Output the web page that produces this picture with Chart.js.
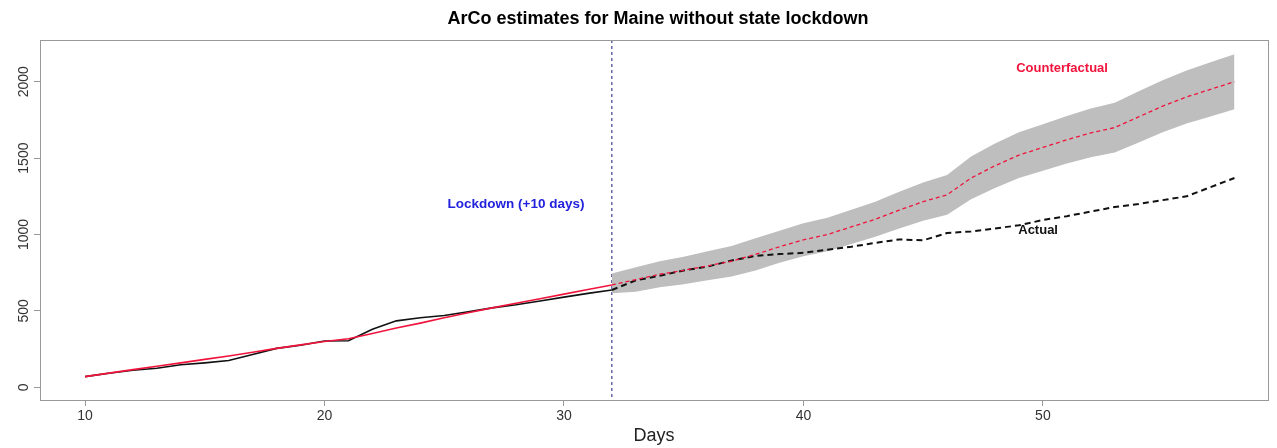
<!DOCTYPE html>
<html>
<head>
<meta charset="utf-8">
<script src="https://cdn.jsdelivr.net/npm/chart.js@4"></script>
<style>
  html, body { margin: 0; padding: 0; background: #fff; }
  #wrap { width: 1277px; height: 448px; }
</style>
</head>
<body>
<div id="wrap"><canvas id="arcoChart" width="1277" height="448"></canvas></div>
<script>
// days before / after the lockdown (+10 days) mark
const diasPre = [10,11,12,13,14,15,16,17,18,19,20,21,22,23,24,25,26,27,28,29,30,31,32];
const diasPost = [32,33,34,35,36,37,38,39,40,41,42,43,44,45,46,47,48,49,50,51,52,53,54,55,56,57,58];

const actualPre = [70,92,112,125,148,160,175,215,255,275,303,305,380,435,455,470,495,520,540,565,590,615,637];
const contrafacticoPre = [70,93,116,138,160,183,205,230,255,278,300,318,352,388,420,455,488,520,550,580,610,640,670];

const actualPost = [637,700,730,765,790,830,860,872,880,900,920,945,968,962,1010,1020,1040,1060,1095,1120,1150,1180,1200,1225,1250,1310,1370];
const contrafacticoPost = [670,705,740,765,795,825,870,920,965,1000,1050,1100,1160,1215,1260,1370,1450,1520,1570,1620,1665,1700,1770,1840,1900,1950,2000];
const bandaSup = [745,785,825,855,890,925,975,1025,1073,1110,1162,1215,1280,1340,1390,1510,1595,1670,1722,1775,1825,1863,1937,2010,2073,2127,2180];
const bandaInf = [615,625,655,675,700,725,765,815,857,890,938,985,1040,1090,1130,1230,1305,1370,1418,1465,1505,1537,1603,1670,1727,1773,1820];

const xTicks = [10,20,30,40,50];
const yTicks = [0,500,1000,1500,2000];
const diaLockdown = 32;

const titulo = "ArCo estimates for Maine without state lockdown";
const fuente = "'Liberation Sans', Arial, Helvetica, sans-serif";

function puntos(xs, ys) {
  return xs.map((x, i) => ({ x: x, y: ys[i] }));
}

const rojo = "#f0143c";

// box, vertical line, rotated y labels, text annotations
const decoracion = {
  id: "decoracion",
  beforeDatasetsDraw(chart) {
    const { ctx, chartArea, scales } = chart;
    const xl = scales.x.getPixelForValue(diaLockdown);
    ctx.save();
    ctx.strokeStyle = "#1a1a7a";
    ctx.lineWidth = 1;
    ctx.setLineDash([3, 3]);
    ctx.beginPath();
    ctx.moveTo(xl, chartArea.top);
    ctx.lineTo(xl, chartArea.bottom);
    ctx.stroke();
    ctx.restore();
  },
  afterDraw(chart) {
    const { ctx, chartArea, scales } = chart;
    ctx.save();

    ctx.strokeStyle = "#999";
    ctx.lineWidth = 1;
    ctx.strokeRect(chartArea.left + 0.5, chartArea.top + 0.5,
      chartArea.right - chartArea.left, chartArea.bottom - chartArea.top);

    ctx.fillStyle = "#000";
    ctx.font = "bold 18px " + fuente;
    ctx.textAlign = "center";
    ctx.textBaseline = "middle";
    ctx.fillText(titulo, (chartArea.left + chartArea.right) / 2 + 4, 19);

    ctx.fillStyle = "#333";
    ctx.font = "14px " + fuente;
    yTicks.forEach((v) => {
      const y = scales.y.getPixelForValue(v);
      ctx.save();
      ctx.translate(24, y);
      ctx.rotate(-Math.PI / 2);
      ctx.fillText(String(v), 0, 0);
      ctx.restore();
    });

    ctx.font = "bold 13px " + fuente;
    ctx.fillStyle = rojo;
    ctx.fillText("Counterfactual", scales.x.getPixelForValue(50.8), scales.y.getPixelForValue(2090));
    ctx.fillStyle = "#111";
    ctx.fillText("Actual", scales.x.getPixelForValue(49.8), scales.y.getPixelForValue(1030));
    ctx.fillStyle = "#2222dd";
    ctx.font = "bold 13.5px " + fuente;
    ctx.fillText("Lockdown (+10 days)", scales.x.getPixelForValue(28.0), scales.y.getPixelForValue(1200));

    ctx.restore();
  }
};

new Chart(document.getElementById("arcoChart"), {
  type: "line",
  data: {
    datasets: [
      {
        label: "lower",
        data: puntos(diasPost, bandaInf),
        borderWidth: 0,
        pointRadius: 0,
        fill: false,
        order: 10
      },
      {
        label: "upper",
        data: puntos(diasPost, bandaSup),
        borderWidth: 0,
        pointRadius: 0,
        backgroundColor: "#bebebe",
        fill: "-1",
        order: 9
      },
      {
        label: "Counterfactual pre",
        data: puntos(diasPre, contrafacticoPre),
        borderColor: rojo,
        borderWidth: 1.6,
        pointRadius: 0,
        order: 1
      },
      {
        label: "Actual pre",
        data: puntos(diasPre, actualPre),
        borderColor: "#111",
        borderWidth: 1.6,
        pointRadius: 0,
        order: 2
      },
      {
        label: "Actual post",
        data: puntos(diasPost, actualPost),
        borderColor: "#111",
        borderWidth: 2,
        borderDash: [6, 4],
        pointRadius: 0,
        order: 3
      },
      {
        label: "Counterfactual post",
        data: puntos(diasPost, contrafacticoPost),
        borderColor: rojo,
        borderWidth: 1.3,
        borderDash: [4, 3],
        pointRadius: 0,
        order: 1
      }
    ]
  },
  options: {
    responsive: false,
    animation: false,
    layout: { padding: { top: 40, right: 9, left: 0, bottom: 0 } },
    plugins: {
      legend: { display: false },
      tooltip: { enabled: false }
    },
    elements: { line: { tension: 0 } },
    scales: {
      x: {
        type: "linear",
        min: 8.12,
        max: 59.4,
        afterBuildTicks: (s) => { s.ticks = xTicks.map(v => ({ value: v })); },
        afterFit: (s) => { s.height = 48; },
        grid: { drawOnChartArea: false, tickLength: 6, color: "#999" },
        border: { display: false },
        ticks: { color: "#333", font: { size: 14, family: fuente }, padding: 2, maxRotation: 0 },
        title: { display: true, text: "Days", color: "#222", font: { size: 18, family: fuente }, padding: { top: 0, bottom: 1 } }
      },
      y: {
        type: "linear",
        min: -83,
        max: 2273,
        afterBuildTicks: (s) => { s.ticks = yTicks.map(v => ({ value: v })); },
        afterFit: (s) => { s.width = 40; },
        grid: { drawOnChartArea: false, tickLength: 6, color: "#999" },
        border: { display: false },
        ticks: { display: false }
      }
    }
  },
  plugins: [decoracion]
});
</script>
</body>
</html>
